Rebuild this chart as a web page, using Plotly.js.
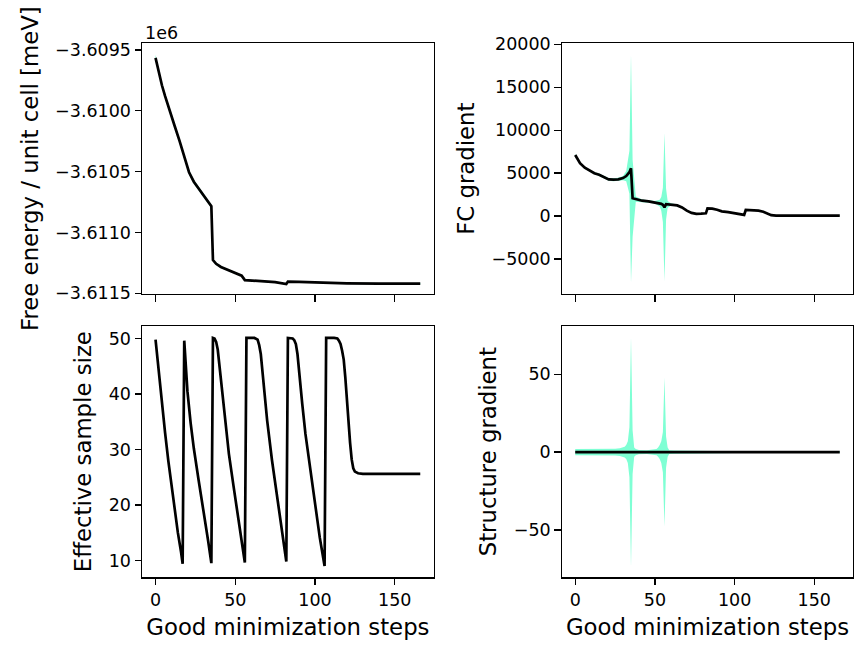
<!DOCTYPE html>
<html><head><meta charset="utf-8">
<script src="https://cdn.plot.ly/plotly-3.0.1.min.js"></script>
<style>html,body{margin:0;padding:0;background:#fff;}#chart{width:854px;height:646px;}</style>
</head><body><div id="chart"></div>
<script>
// ---------- data ----------
const xTicks = [0, 50, 100, 150];

// Free energy / unit cell [meV]
const energySteps = [0,2,4,6,9,12,15,18,21,24,29,35,36,38,41,45,51,54,56,60,66,75,82,83,90,100,110,120,140,166];
const energyMean = [-3609565,-3609685,-3609790,-3609880,-3610010,-3610125,-3610245,-3610375,-3610505,-3610583,-3610678,-3610785,-3611227,-3611258,-3611284,-3611305,-3611335,-3611355,-3611392,-3611396,-3611398,-3611408,-3611424,-3611404,-3611407,-3611411,-3611415,-3611418,-3611420,-3611420];
const energyStd = [25,22,20,20,20,20,18,18,18,16,15,15,10,10,8,8,8,8,6,6,6,5,5,5,5,5,5,5,5,5];
const energyTicks = [-3611500,-3611000,-3610500,-3610000,-3609500];

// FC gradient
const fcSteps = [0,3,6,9,12,15,17,19,21,24,27,30,32,34,35,36,38,42,46,50,53,54,55,56,57,58,60,64,67,70,73,76,79,82,83,86,89,92,96,100,103,106,107,111,115,118,121,123,126,145,166];
const fcMean = [7110,6150,5620,5260,4990,4800,4620,4400,4260,4230,4270,4420,4650,5100,5550,2060,1960,1780,1700,1600,1500,1420,1300,1010,1380,1360,1330,1230,1000,620,360,250,270,310,880,860,720,540,440,330,230,130,700,690,620,500,260,90,40,40,40];
const fcStd = [120,120,120,120,120,140,150,160,160,170,180,250,600,2500,13300,4500,300,150,150,150,400,800,2000,8650,1800,400,150,100,100,80,80,60,60,60,60,60,50,50,50,50,50,50,50,50,50,50,50,40,40,40,40];
const fcTicks = [-5000,0,5000,10000,15000,20000];

// Effective sample size
const essSteps = [0,2,4,6,8,10,12,14,16,17,18,20,22,24,27,30,33,35,36,37,38,39,40,41,43,46,49,52,55,56,57,62,64,65,66,67,68,70,73,76,79,81,82,83,86,87,88,89,90,92,94,97,100,103,106,107,112,114,115,116,117,118,119,120,121,122,123,124,125,127,130,166];
const essValues = [49.8,44,38.5,33,28,23.5,19,15,11.5,9.4,49.6,40.5,34.8,30.2,24.5,19.3,13.5,9.5,50.1,50.0,49.4,48.0,45.3,42.5,36.2,29.2,23.2,17.4,11.5,9.6,50.1,50.1,49.8,48.8,47.2,44.0,40.8,35.2,28.1,22.2,16.3,12.2,9.8,50.1,50.0,49.7,49.0,47.2,44.6,38.2,32.8,26.3,20.0,14.1,9.0,50.1,50.1,50.0,49.6,49.0,47.8,46.2,43.0,38.6,35.0,31.2,28.2,26.6,26.0,25.7,25.6,25.6];
const essTicks = [10,20,30,40,50];

// Structure gradient
const structSteps = [0,10,20,25,28,30,31,32,33,34,35,36,37,38,40,45,50,51,52,53,54,55,56,57,58,59,62,70,80,100,130,166];
const structMean = [0,0,0,0,0,0,0,0,0,0,0,0,0,0,0,0,0,0,0,0,0,0,0,0,0,0,0,0,0,0,0,0];
const structStd = [2,2,2,2.2,2.5,3,3.5,4.5,7,16,74,14,3,2,1.3,1.2,1.5,2,3,4.5,7,13,48,10,3,1.2,1,0.8,0.6,0.5,0.5,0.5];
const structTicks = [-50,0,50];

// ---------- drawing ----------
const BAND = '#7FFFD4';
const LW = 2.7;
function band(x, mean, std, xa, ya) {
  const lo = mean.map((m, i) => m - std[i]);
  const hi = mean.map((m, i) => m + std[i]);
  return [
    {x: x, y: lo, xaxis: xa, yaxis: ya, mode: 'lines', line: {width: 0, color: 'rgba(0,0,0,0)'}, hoverinfo: 'skip', showlegend: false},
    {x: x, y: hi, xaxis: xa, yaxis: ya, mode: 'lines', fill: 'tonexty', fillcolor: BAND, line: {width: 0, color: 'rgba(0,0,0,0)'}, hoverinfo: 'skip', showlegend: false}
  ];
}
function meanLine(x, y, xa, ya) {
  return {x: x, y: y, xaxis: xa, yaxis: ya, mode: 'lines', line: {color: '#000', width: LW}, showlegend: false};
}
const traces = [
  ...band(energySteps, energyMean, energyStd, 'x', 'y'),
  meanLine(energySteps, energyMean, 'x', 'y'),
  ...band(fcSteps, fcMean, fcStd, 'x2', 'y2'),
  meanLine(fcSteps, fcMean, 'x2', 'y2'),
  meanLine(essSteps, essValues, 'x3', 'y3'),
  ...band(structSteps, structMean, structStd, 'x4', 'y4'),
  meanLine(structSteps, structMean, 'x4', 'y4')
];

const TICK = 17.5, TITLE = 22.8, STAND = 10;
const axBase = {
  showline: true, mirror: true, linecolor: '#000', linewidth: 1.3,
  ticks: 'outside', ticklen: 6.5, tickwidth: 1.3, tickcolor: '#000',
  showgrid: false, zeroline: false, fixedrange: true,
  tickfont: {family: 'DejaVu Sans', size: TICK, color: '#000'}
};
const xRange = [-8.3, 174.3];
const colL = [142.3/854, 433.5/854], colR = [562/854, 853/854];
const rowT = [1 - 294/646, 1 - 43.3/646], rowB = [1 - 577.3/646, 1 - 326/646];
const minus = s => s.replace('-', '\u2212');
function ytitle(t) { return {text: t, font: {family: 'DejaVu Sans', size: TITLE, color: '#000'}, standoff: STAND}; }

const layout = {
  width: 854, height: 646, margin: {l: 0, r: 0, t: 0, b: 0},
  paper_bgcolor: '#fff', plot_bgcolor: '#fff', showlegend: false,
  font: {family: 'DejaVu Sans', size: TICK, color: '#000'},
  xaxis: Object.assign({}, axBase, {domain: colL, anchor: 'y', range: xRange, tickvals: xTicks, showticklabels: false}),
  yaxis: Object.assign({}, axBase, {domain: rowT, anchor: 'x', range: [-3611506, -3609445], tickvals: energyTicks,
    ticktext: energyTicks.map(v => minus((v / 1e6).toFixed(4))), title: ytitle('Free energy / unit cell [meV]')}),
  xaxis2: Object.assign({}, axBase, {domain: colR, anchor: 'y2', range: xRange, tickvals: xTicks, showticklabels: false}),
  yaxis2: Object.assign({}, axBase, {domain: rowT, anchor: 'x2', range: [-9090, 20120], tickvals: fcTicks,
    ticktext: fcTicks.map(v => minus(String(v))), title: ytitle('FC gradient')}),
  xaxis3: Object.assign({}, axBase, {domain: colL, anchor: 'y3', range: xRange, tickvals: xTicks, title: ytitle('Good minimization steps')}),
  yaxis3: Object.assign({}, axBase, {domain: rowB, anchor: 'x3', range: [6.95, 52.25], tickvals: essTicks, title: ytitle('Effective sample size')}),
  xaxis4: Object.assign({}, axBase, {domain: colR, anchor: 'y4', range: xRange, tickvals: xTicks, title: ytitle('Good minimization steps')}),
  yaxis4: Object.assign({}, axBase, {domain: rowB, anchor: 'x4', range: [-80.4, 81.0], tickvals: structTicks,
    ticktext: structTicks.map(v => minus(String(v))), title: ytitle('Structure gradient')}),
  annotations: [{text: '1e6', xref: 'paper', yref: 'paper', x: 143/854, y: 1 - 45/646, xanchor: 'left', yanchor: 'bottom',
    showarrow: false, font: {family: 'DejaVu Sans', size: TICK, color: '#000'}}]
};
Plotly.newPlot('chart', traces, layout, {staticPlot: true, displayModeBar: false});
</script></body></html>
